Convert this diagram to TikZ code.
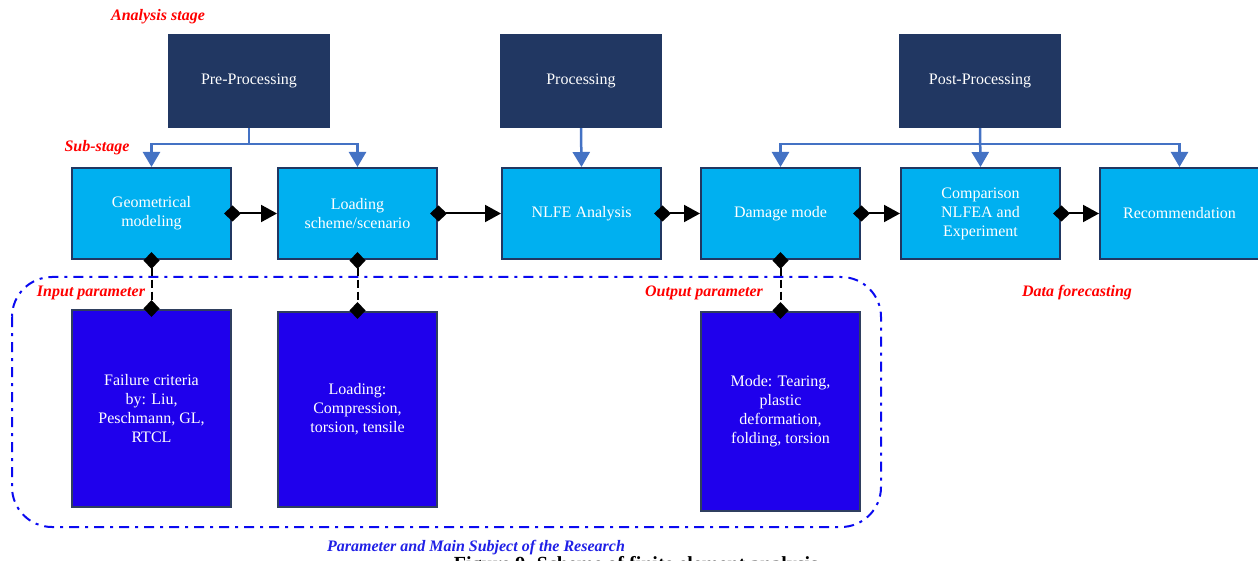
\documentclass[tikz,border=0pt]{standalone}
\usepackage{fontspec}
\setmainfont{Liberation Serif}
\usetikzlibrary{arrows.meta}
\definecolor{navy}{HTML}{213762}
\definecolor{cyanbox}{HTML}{00B0F0}
\definecolor{parbox}{HTML}{1F00EC}
\definecolor{parline}{HTML}{2F3F5F}
\definecolor{linkblue}{HTML}{4472C4}
\definecolor{dashblue}{HTML}{0A0AF0}
\definecolor{notered}{HTML}{FF0000}
\definecolor{noteblue}{HTML}{2020E6}
\newcommand{\boxfont}{\fontsize{16}{19}\selectfont}
\newcommand{\notefont}{\fontsize{16}{18}\selectfont\bfseries\itshape}

\begin{document}
\begin{tikzpicture}[x=1pt,y=-1pt,
    stage/.style={fill=navy,text=white,minimum width=162pt,minimum height=94pt,font=\boxfont},
    sub/.style={draw=navy,line width=2pt,fill=cyanbox,text=white,align=center,
      minimum width=159pt,minimum height=91pt,font=\boxfont},
    par/.style={draw=parline,line width=2pt,fill=parbox,text=white,align=center,
      minimum width=159pt,minimum height=#1,font=\boxfont},
    note/.style={text=notered,font=\notefont,inner sep=0pt},
    down/.style={draw=linkblue,line width=2.5pt,-{Triangle[length=15pt,width=17pt]}},
    flow/.style={line width=2pt,{Diamond[length=17pt,width=16pt]}-{Triangle[length=16pt,width=17pt]},
      shorten <=-8pt},
    link/.style={line width=2pt,dash pattern=on 8pt off 4pt,
      {Diamond[length=17pt,width=16pt]}-{Diamond[length=17pt,width=16pt]},
      shorten <=-8pt,shorten >=-8pt}]
    \useasboundingbox (0,0) rectangle (1258,561);

    % analysis stages
    \node[stage] (pre) at (249,81) {Pre-Processing};
    \node[stage] (proc) at (581,81) {Processing};
    \node[stage] (post) at (980,81) {Post-Processing};

    % sub-stages
    \node[sub] (geo) at (151.5,213.5) {Geometrical\\modeling};
    \node[sub] (load) at (357.5,213.5) {Loading\\scheme/scenario};
    \node[sub] (nlfe) at (581.5,213.5) {NLFE Analysis};
    \node[sub] (dmg) at (780.5,213.5) {Damage mode};
    \node[sub] (comp) at (980.5,213.5) {Comparison\\NLFEA and\\Experiment};
    \node[sub] (rec) at (1179.5,213.5) {Recommendation};

    % parameters
    \node[par=197pt] (fail) at (151.5,408.5) {Failure criteria\\by: Liu,\\Peschmann, GL,\\RTCL};
    \node[par=195pt] (ldpar) at (357.5,409.5) {Loading:\\Compression,\\torsion, tensile};
    \node[par=199pt] (mode) at (780.5,411.5) {Mode: Tearing,\\plastic\\deformation,\\folding, torsion};

    \draw[dashblue,line width=2pt,rounded corners=40pt,
      dash pattern=on 10pt off 6pt on 3pt off 6pt] (12,277) rectangle (881,527);

    % connectors
    \draw[down] (pre.south) -- ++(0,16) -| (geo.north);
    \draw[down] (pre.south) -- ++(0,16) -| (load.north);
    \draw[down] (proc.south) -- (nlfe.north);
    \draw[down] (post.south) -- ++(0,16) -| (dmg.north);
    \draw[down] (post.south) -- (comp.north);
    \draw[down] (post.south) -- ++(0,16) -| (rec.north);

    \draw[flow] (geo.east) -- (load.west);
    \draw[flow] (load.east) -- (nlfe.west);
    \draw[flow] (nlfe.east) -- (dmg.west);
    \draw[flow] (dmg.east) -- (comp.west);
    \draw[flow] (comp.east) -- (rec.west);

    \draw[link] (geo.south) -- (fail.north);
    \draw[link] (load.south) -- (ldpar.north);
    \draw[link] (dmg.south) -- (mode.north);

    % notes
    \node[note] (nanalysis) at (158,17) {Analysis stage};
    \node[note] (nsub) at (97,148) {Sub-stage};
    \node[note] (ninput) at (91,293) {Input parameter};
    \node[note] (noutput) at (704,293) {Output parameter};
    \node[note] (nforecast) at (1077,293) {Data forecasting};
    \node[note,text=noteblue] (nresearch) at (476,548) {Parameter and Main Subject of the Research};
    \node[anchor=base,font=\fontsize{20}{22}\selectfont\bfseries,inner sep=0pt] (caption) at (636,570)
      {Figure 9. Scheme of finite element analysis};
\end{tikzpicture}
\end{document}
